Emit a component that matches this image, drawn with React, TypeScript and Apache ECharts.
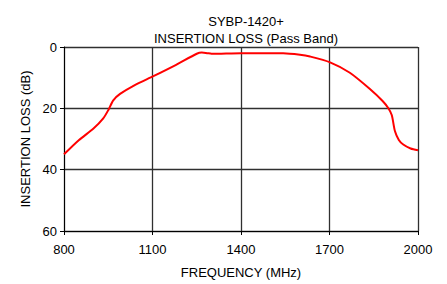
import React, { useEffect, useRef } from "react";
import * as echarts from "echarts";

const titleLines = ["SYBP-1420+", "INSERTION LOSS (Pass Band)"];
const xTitle = "FREQUENCY (MHz)";
const yTitle = "INSERTION LOSS (dB)";
const freqMHz = [800, 850, 900, 933, 950, 967, 990, 1040, 1103, 1180, 1250, 1267, 1285, 1300, 1400, 1464, 1543, 1600, 1634, 1702, 1769, 1837, 1880, 1899, 1911, 1922, 1935, 1950, 1975, 2000];
const lossDb = [35.0, 30.4, 26.6, 23.3, 20.6, 17.4, 15.3, 12.4, 9.5, 5.8, 2.2, 1.8, 2.0, 2.2, 2.0, 2.0, 2.0, 2.5, 3.1, 5.0, 8.4, 13.7, 17.6, 19.9, 22.2, 27.5, 30.3, 31.8, 33.1, 33.7];

export default function App() {
  const ref = useRef<HTMLDivElement>(null);
  useEffect(() => {
    const chart = echarts.init(ref.current!, null, { renderer: "svg" });
    const font = "Liberation Sans, Arial, sans-serif";
    const gridLine = { show: true, lineStyle: { color: "#303030", width: 1.3, type: "solid" } };
    chart.setOption({
      animation: false,
      backgroundColor: "#ffffff",
      title: {
        text: titleLines.join("\n"),
        left: 241,
        textAlign: "center",
        top: 8,
        textStyle: { fontFamily: font, fontSize: 13, fontWeight: "normal", color: "#000", lineHeight: 17 },
      },
      grid: { left: 64, right: 29, top: 47, bottom: 49 },
      xAxis: {
        type: "value",
        min: 800,
        max: 2000,
        interval: 300,
        name: xTitle,
        nameLocation: "middle",
        nameGap: 35,
        nameTextStyle: { fontFamily: font, fontSize: 13, color: "#000" },
        axisLine: { show: true, onZero: false, lineStyle: { color: "#000", width: 1 } },
        axisTick: { show: true, length: 4, lineStyle: { color: "#000" } },
        axisLabel: { fontFamily: font, fontSize: 13, color: "#000", margin: 12, formatter: (v: number) => String(v) },
        splitLine: gridLine,
      },
      yAxis: {
        type: "value",
        min: 0,
        max: 60,
        interval: 20,
        inverse: true,
        name: yTitle,
        nameLocation: "middle",
        nameGap: 32,
        nameTextStyle: { fontFamily: font, fontSize: 13, color: "#000" },
        axisLine: { show: true, lineStyle: { color: "#000", width: 1 } },
        axisTick: { show: true, length: 4, lineStyle: { color: "#000" } },
        axisLabel: { fontFamily: font, fontSize: 13, color: "#000", margin: 7 },
        splitLine: gridLine,
      },
      series: [
        {
          type: "line",
          data: freqMHz.map((f, i) => [f, lossDb[i]]),
          smooth: 0.25,
          showSymbol: false,
          lineStyle: { color: "#ff0000", width: 2 },
          z: 5,
        },
      ],
    });
    return () => chart.dispose();
  }, []);
  return <div ref={ref} style={{ position: "absolute", left: 0, top: 0, width: 447, height: 284 }} />;
}
